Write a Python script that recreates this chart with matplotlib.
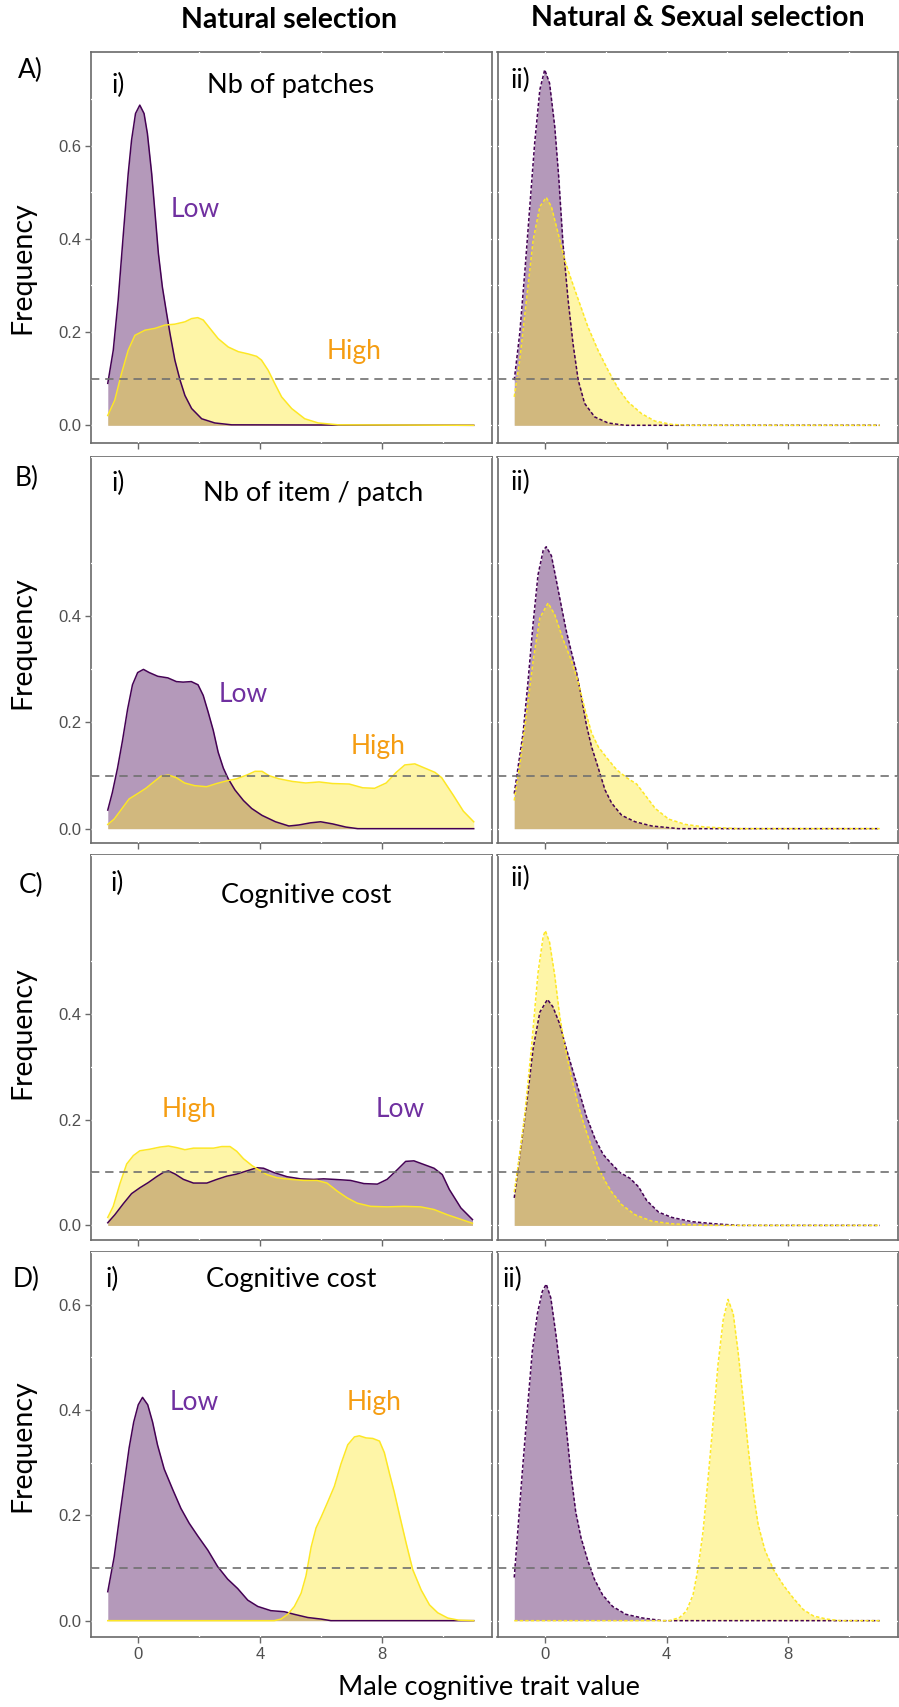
import matplotlib
matplotlib.use('Agg')
import matplotlib.pyplot as plt

# density of male cognitive trait, Low vs High, for each scenario
# row A: number of patches
a_nat_low_x = [-1, -0.82, -0.66, -0.49, -0.33, -0.22, -0.09, 0.05, 0.19, 0.30, 0.44, 0.55, 0.66, 0.79, 0.93, 1.04, 1.20, 1.37, 1.53, 1.75, 2.08, 2.51, 3.06, 11.0]
a_nat_low_y = [0.090, 0.161, 0.268, 0.410, 0.540, 0.612, 0.669, 0.687, 0.669, 0.626, 0.540, 0.455, 0.369, 0.297, 0.240, 0.197, 0.140, 0.097, 0.064, 0.036, 0.014, 0.005, 0.001, 0.0]
a_nat_high_x = [-1, -0.77, -0.55, -0.33, -0.11, 0.22, 0.55, 0.87, 1.20, 1.53, 1.75, 1.95, 2.13, 2.35, 2.62, 2.95, 3.28, 3.61, 3.88, 4.04, 4.26, 4.48, 4.70, 5.03, 5.46, 5.90, 6.56, 11.0]
a_nat_high_y = [0.021, 0.054, 0.111, 0.161, 0.193, 0.204, 0.208, 0.215, 0.217, 0.222, 0.229, 0.231, 0.226, 0.208, 0.186, 0.168, 0.158, 0.153, 0.148, 0.140, 0.118, 0.089, 0.061, 0.036, 0.014, 0.005, 0.001, 0.0]
a_sex_low_x = [-1, -0.82, -0.64, -0.49, -0.33, -0.16, 0.0, 0.16, 0.33, 0.46, 0.60, 0.77, 0.93, 1.10, 1.31, 1.64, 2.08, 2.63, 11.0]
a_sex_low_y = [0.097, 0.197, 0.340, 0.469, 0.605, 0.720, 0.763, 0.734, 0.641, 0.533, 0.390, 0.268, 0.175, 0.097, 0.047, 0.018, 0.005, 0.0, 0.0]
a_sex_high_x = [-1, -0.82, -0.60, -0.38, -0.16, 0.05, 0.22, 0.44, 0.66, 0.88, 1.15, 1.42, 1.75, 2.08, 2.41, 2.74, 3.18, 3.62, 4.16, 4.71, 11.0]
a_sex_high_y = [0.061, 0.140, 0.268, 0.397, 0.469, 0.489, 0.469, 0.412, 0.354, 0.311, 0.261, 0.211, 0.161, 0.118, 0.079, 0.050, 0.025, 0.009, 0.002, 0.0, 0.0]

# row B: number of items per patch
b_nat_low_x = [-1, -0.85, -0.68, -0.52, -0.35, -0.19, -0.02, 0.17, 0.36, 0.64, 0.97, 1.25, 1.47, 1.74, 1.96, 2.13, 2.29, 2.46, 2.62, 2.79, 2.95, 3.17, 3.45, 3.72, 4.06, 4.50, 4.94, 5.27, 5.65, 5.98, 6.37, 6.81, 7.20, 11.0]
b_nat_low_y = [0.035, 0.068, 0.114, 0.165, 0.225, 0.271, 0.294, 0.300, 0.294, 0.287, 0.284, 0.277, 0.276, 0.277, 0.271, 0.251, 0.220, 0.185, 0.144, 0.114, 0.094, 0.073, 0.053, 0.038, 0.025, 0.013, 0.005, 0.007, 0.011, 0.013, 0.009, 0.003, 0.0, 0.0]
b_nat_high_x = [-1, -0.79, -0.57, -0.30, -0.02, 0.25, 0.53, 0.75, 0.99, 1.25, 1.52, 1.85, 2.24, 2.57, 2.90, 3.23, 3.56, 3.83, 4.06, 4.28, 4.61, 5.05, 5.49, 5.93, 6.37, 6.92, 7.36, 7.75, 8.13, 8.46, 8.74, 9.07, 9.40, 9.73, 9.95, 10.33, 10.66, 11.0]
b_nat_high_y = [0.008, 0.018, 0.035, 0.056, 0.066, 0.076, 0.089, 0.099, 0.101, 0.096, 0.086, 0.081, 0.079, 0.085, 0.090, 0.094, 0.101, 0.108, 0.108, 0.100, 0.094, 0.089, 0.086, 0.088, 0.085, 0.084, 0.077, 0.076, 0.086, 0.106, 0.120, 0.122, 0.114, 0.106, 0.096, 0.063, 0.033, 0.013]
b_sex_low_x = [-1, -0.88, -0.71, -0.55, -0.38, -0.22, -0.05, 0.05, 0.22, 0.38, 0.55, 0.71, 0.88, 1.04, 1.21, 1.37, 1.54, 1.76, 1.98, 2.20, 2.53, 2.97, 3.52, 4.40, 11.0]
b_sex_low_y = [0.066, 0.114, 0.180, 0.276, 0.387, 0.478, 0.524, 0.531, 0.514, 0.468, 0.418, 0.372, 0.332, 0.296, 0.246, 0.195, 0.154, 0.114, 0.073, 0.048, 0.025, 0.013, 0.005, 0.0, 0.0]
b_sex_high_x = [-1, -0.82, -0.60, -0.38, -0.16, 0.11, 0.33, 0.60, 0.88, 1.10, 1.32, 1.54, 1.76, 2.03, 2.36, 2.69, 3.02, 3.30, 3.63, 4.07, 4.62, 5.27, 6.37, 11.0]
b_sex_high_y = [0.053, 0.119, 0.215, 0.316, 0.397, 0.425, 0.403, 0.357, 0.316, 0.276, 0.225, 0.180, 0.154, 0.134, 0.111, 0.096, 0.084, 0.063, 0.038, 0.018, 0.008, 0.003, 0.0, 0.0]

# row C: cognitive cost
c_nat_low_x = [-1, -0.77, -0.49, -0.22, 0.05, 0.33, 0.60, 0.82, 0.99, 1.21, 1.48, 1.81, 2.25, 2.58, 2.90, 3.23, 3.56, 3.89, 4.11, 4.44, 4.88, 5.32, 5.75, 6.08, 6.41, 6.96, 7.40, 7.84, 8.16, 8.49, 8.77, 9.04, 9.37, 9.70, 9.97, 10.2, 10.58, 10.96]
c_nat_low_y = [0.005, 0.020, 0.041, 0.060, 0.071, 0.081, 0.092, 0.100, 0.103, 0.097, 0.087, 0.080, 0.080, 0.087, 0.093, 0.097, 0.103, 0.109, 0.108, 0.100, 0.092, 0.088, 0.087, 0.088, 0.087, 0.085, 0.079, 0.078, 0.087, 0.105, 0.121, 0.122, 0.115, 0.108, 0.096, 0.068, 0.033, 0.011]
c_nat_high_x = [-1, -0.82, -0.60, -0.38, -0.16, 0.05, 0.38, 0.71, 0.99, 1.26, 1.53, 1.81, 2.14, 2.47, 2.74, 3.01, 3.23, 3.45, 3.73, 3.95, 4.22, 4.55, 4.99, 5.42, 5.86, 6.19, 6.52, 6.85, 7.18, 7.62, 8.16, 8.71, 9.26, 9.70, 10.14, 10.5, 10.96]
c_nat_high_y = [0.015, 0.036, 0.079, 0.116, 0.132, 0.141, 0.144, 0.148, 0.150, 0.147, 0.143, 0.146, 0.146, 0.146, 0.149, 0.149, 0.140, 0.126, 0.113, 0.105, 0.096, 0.090, 0.087, 0.085, 0.085, 0.080, 0.065, 0.052, 0.042, 0.036, 0.035, 0.036, 0.035, 0.030, 0.020, 0.013, 0.004]
c_sex_low_x = [-1, -0.82, -0.60, -0.38, -0.16, 0.09, 0.27, 0.49, 0.71, 0.93, 1.15, 1.37, 1.65, 1.92, 2.20, 2.47, 2.80, 3.08, 3.35, 3.74, 4.18, 4.84, 5.60, 6.37, 11.0]
c_sex_low_y = [0.052, 0.132, 0.227, 0.334, 0.403, 0.427, 0.413, 0.381, 0.334, 0.291, 0.249, 0.206, 0.164, 0.134, 0.116, 0.100, 0.089, 0.073, 0.047, 0.025, 0.015, 0.007, 0.003, 0.0, 0.0]
c_sex_high_x = [-1, -0.88, -0.66, -0.44, -0.22, -0.05, 0.02, 0.16, 0.33, 0.49, 0.66, 0.88, 1.10, 1.32, 1.54, 1.76, 1.98, 2.20, 2.53, 2.97, 3.52, 4.18, 5.27, 11.0]
c_sex_high_y = [0.063, 0.110, 0.206, 0.334, 0.477, 0.546, 0.557, 0.535, 0.472, 0.397, 0.339, 0.280, 0.227, 0.185, 0.148, 0.110, 0.084, 0.063, 0.039, 0.020, 0.008, 0.003, 0.0, 0.0]

# row D: cognitive cost
d_nat_low_x = [-1, -0.79, -0.62, -0.46, -0.30, -0.15, 0.0, 0.14, 0.31, 0.47, 0.63, 0.85, 1.13, 1.40, 1.67, 1.95, 2.28, 2.60, 2.93, 3.26, 3.59, 3.92, 4.35, 4.79, 5.12, 5.56, 6.0, 6.32, 11.0]
d_nat_low_y = [0.055, 0.121, 0.194, 0.261, 0.328, 0.377, 0.410, 0.424, 0.410, 0.377, 0.334, 0.288, 0.249, 0.213, 0.185, 0.161, 0.134, 0.103, 0.079, 0.061, 0.039, 0.027, 0.019, 0.017, 0.012, 0.006, 0.003, 0.0, 0.0]
d_nat_high_x = [-1, 4.46, 4.68, 4.90, 5.12, 5.34, 5.50, 5.67, 5.83, 6.0, 6.21, 6.43, 6.65, 6.87, 7.09, 7.25, 7.47, 7.69, 7.91, 8.07, 8.24, 8.40, 8.57, 8.79, 9.0, 9.28, 9.55, 9.82, 10.15, 10.5, 11.0]
d_nat_high_y = [0.0, 0.0, 0.003, 0.012, 0.027, 0.052, 0.085, 0.140, 0.176, 0.197, 0.225, 0.255, 0.298, 0.334, 0.349, 0.351, 0.347, 0.346, 0.341, 0.319, 0.279, 0.243, 0.200, 0.146, 0.097, 0.058, 0.030, 0.015, 0.005, 0.001, 0.0]
d_sex_low_x = [-1, -0.90, -0.74, -0.57, -0.41, -0.24, -0.08, 0.05, 0.20, 0.36, 0.53, 0.69, 0.86, 1.02, 1.19, 1.41, 1.63, 1.90, 2.23, 2.67, 3.22, 3.88, 11.0]
d_sex_low_y = [0.082, 0.158, 0.279, 0.400, 0.510, 0.583, 0.625, 0.639, 0.613, 0.547, 0.468, 0.377, 0.279, 0.206, 0.158, 0.115, 0.079, 0.049, 0.027, 0.012, 0.005, 0.0, 0.0]
d_sex_high_x = [-1, 4.10, 4.43, 4.65, 4.87, 5.03, 5.20, 5.36, 5.53, 5.69, 5.86, 6.02, 6.19, 6.35, 6.52, 6.68, 6.85, 7.01, 7.23, 7.51, 7.84, 8.16, 8.49, 8.82, 9.26, 9.70, 11.0]
d_sex_high_y = [0.0, 0.0, 0.006, 0.018, 0.049, 0.097, 0.170, 0.267, 0.377, 0.486, 0.571, 0.610, 0.583, 0.510, 0.419, 0.328, 0.243, 0.182, 0.134, 0.097, 0.067, 0.043, 0.021, 0.009, 0.003, 0.0, 0.0]

row_letters = ['A)', 'B)', 'C)', 'D)']
row_titles = ['Nb of patches', 'Nb of item / patch', 'Cognitive cost', 'Cognitive cost']
col_titles = ['Natural selection', 'Natural & Sexual selection']
threshold = 0.1

PURPLE = '#440154'
YELLOW = '#FDE725'
LOW_TXT = '#7030A0'
HIGH_TXT = '#F59D12'
FRAME = '#6a6a6a'
TXT = 'Lato'

W, H = 899, 1707
fig = plt.figure(figsize=(W / 100, H / 100), dpi=100)


def add_ax(x0, y0, x1, y1):
    return fig.add_axes([x0 / W, 1 - y1 / H, (x1 - x0) / W, (y1 - y0) / H])


def ftext(x, y, s, **kw):
    fig.text(x / W, 1 - y / H, s, ha='center', va='center', family=TXT, **kw)


rows_px = [(52, 443), (457, 843), (855, 1240), (1252, 1637)]
cols_px = [(91, 492), (497.5, 898)]
ylims = [(-0.038, 0.801), (-0.027, 0.559), (-0.0276, 0.586), (-0.031, 0.670)]
yticks = [[0, 0.2, 0.4, 0.6], [0, 0.2, 0.4], [0, 0.2, 0.4], [0, 0.2, 0.4, 0.6]]

curves = [
    [(a_nat_low_x, a_nat_low_y, a_nat_high_x, a_nat_high_y), (a_sex_low_x, a_sex_low_y, a_sex_high_x, a_sex_high_y)],
    [(b_nat_low_x, b_nat_low_y, b_nat_high_x, b_nat_high_y), (b_sex_low_x, b_sex_low_y, b_sex_high_x, b_sex_high_y)],
    [(c_nat_low_x, c_nat_low_y, c_nat_high_x, c_nat_high_y), (c_sex_low_x, c_sex_low_y, c_sex_high_x, c_sex_high_y)],
    [(d_nat_low_x, d_nat_low_y, d_nat_high_x, d_nat_high_y), (d_sex_low_x, d_sex_low_y, d_sex_high_x, d_sex_high_y)],
]

# where the Low / High labels sit in each left panel (data units)
low_pos = [(1.87, 0.462), (3.44, 0.253), (8.59, 0.219), (1.84, 0.415)]
high_pos = [(7.09, 0.158), (7.85, 0.155), (1.67, 0.219), (7.72, 0.415)]

for r, (y0, y1) in enumerate(rows_px):
    for c, (x0, x1) in enumerate(cols_px):
        ax = add_ax(x0, y0, x1, y1)
        lx, ly, hx, hy = curves[r][c]
        ls = '-' if c == 0 else (0, (2.2, 1.4))
        ax.fill_between(lx, 0, ly, color=PURPLE, alpha=0.4, lw=0)
        ax.plot(lx, ly, color=PURPLE, lw=1.1, ls=ls)
        ax.fill_between(hx, 0, hy, color=YELLOW, alpha=0.4, lw=0)
        ax.plot(hx, hy, color=YELLOW, lw=1.1, ls=ls)
        ax.axhline(threshold, color='#707070', lw=1.2, dashes=(5, 3.5))

        ax.set_xlim(-1.55, 11.6)
        ax.set_ylim(*ylims[r])
        ax.set_xticks([0, 4, 8])
        ax.set_xticks([2, 6, 10], minor=True)
        ax.set_yticks(yticks[r])
        ax.set_yticks([0.1, 0.3, 0.5, 0.7], minor=True)
        ax.grid(True, which='both', color='white', lw=0.9)
        ax.set_axisbelow(True)
        for sp in ax.spines.values():
            sp.set_color(FRAME)
            sp.set_linewidth(1.2)
            sp.set_zorder(0.3)
        ax.tick_params(which='major', direction='out', length=4, width=1, color=FRAME,
                       labelsize=12, labelcolor='#4f4f4f', pad=3)
        ax.tick_params(which='minor', length=0)
        if r < 3:
            ax.tick_params(axis='x', labelbottom=False)
        else:
            ax.set_xticklabels(['0', '4', '8'], family='Liberation Sans')
        if c == 1:
            ax.tick_params(axis='y', left=False, labelleft=False)
        else:
            ax.set_yticklabels([f'{v:.1f}' for v in yticks[r]], family='Liberation Sans')
            ax.text(*low_pos[r], 'Low', color=LOW_TXT, fontsize=19, family=TXT,
                    ha='center', va='center')
            ax.text(*high_pos[r], 'High', color=HIGH_TXT, fontsize=19, family=TXT,
                    ha='center', va='center')

# headers and panel tags
ftext(289, 20, col_titles[0], fontsize=20.5, fontweight='bold')
ftext(698, 18, col_titles[1], fontsize=20.5, fontweight='bold')

letter_px = [(30, 70), (27, 478), (31, 885), (26, 1279)]
i_px = [(118, 85), (118, 483), (117, 883), (112, 1279)]
ii_px = [(520, 80), (520, 482), (520, 878), (512, 1279)]
title_px = [(291, 85), (313, 493), (306, 895), (291, 1279)]
freq_y = [268, 643, 1033, 1446]

for r in range(4):
    ftext(*letter_px[r], row_letters[r], fontsize=19)
    ftext(*i_px[r], 'i)', fontsize=19)
    ftext(*ii_px[r], 'ii)', fontsize=19)
    ftext(*title_px[r], row_titles[r], fontsize=19.5)
    ftext(22, freq_y[r], 'Frequency', fontsize=20.5, rotation=90)

ftext(489, 1688, 'Male cognitive trait value', fontsize=19.5)

fig.savefig('out.png', dpi=100)
